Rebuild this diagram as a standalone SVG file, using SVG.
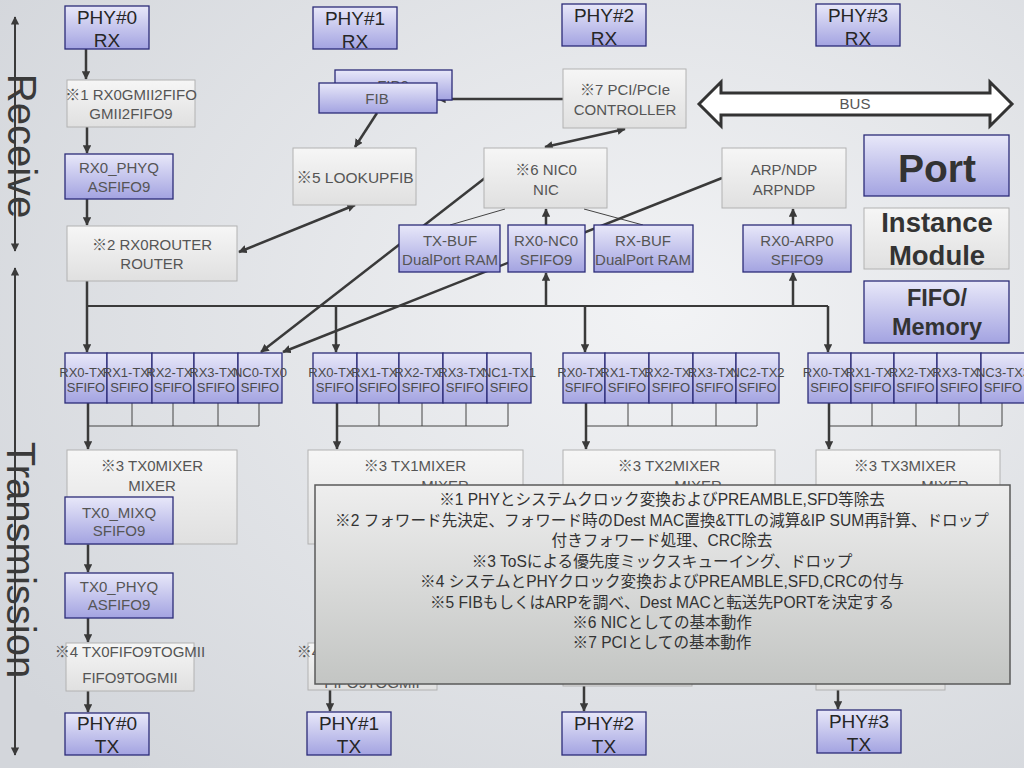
<svg xmlns="http://www.w3.org/2000/svg" width="1024" height="768" viewBox="0 0 1024 768">
<defs>
<radialGradient id="bg" cx="0.65" cy="0.4" r="0.8">
<stop offset="0" stop-color="#f2f3f5"/><stop offset="1" stop-color="#d3d6db"/>
</radialGradient>
<linearGradient id="gb" x1="0" y1="0" x2="0" y2="1"><stop offset="0" stop-color="#e8e8f9"/><stop offset="1" stop-color="#a3a3e1"/></linearGradient>
<linearGradient id="gg" x1="0" y1="0" x2="0" y2="1"><stop offset="0" stop-color="#f6f6f6"/><stop offset="1" stop-color="#e0e0e0"/></linearGradient>
<linearGradient id="gn" x1="0" y1="0" x2="0" y2="1"><stop offset="0" stop-color="#eeeeee"/><stop offset="1" stop-color="#c3c5c3"/></linearGradient>
<marker id="ah" viewBox="0 0 10 10" refX="9" refY="5" markerWidth="3.4" markerHeight="3.4" orient="auto-start-reverse"><path d="M0,0L10,5L0,10z" fill="#3a3a3a"/></marker>
<marker id="ah2" viewBox="0 0 10 10" refX="9" refY="5" markerWidth="4.2" markerHeight="4.2" orient="auto-start-reverse"><path d="M0,0L10,5L0,10z" fill="#3a3a3a"/></marker>
<style>
.bx{fill:url(#gb);stroke:#2c2c78;stroke-width:1.3}
.gy{fill:url(#gg);stroke:#b2b2b2;stroke-width:1}
.t{font-family:"Liberation Sans","Noto Sans CJK JP",sans-serif;font-size:15px;fill:#555;text-anchor:middle}
.ph{font-size:19px;fill:#262626}
.f{font-size:13px;fill:#4a4a4a}
.lg{font-weight:bold;fill:#333}
.big{font-family:"Liberation Sans",sans-serif;font-size:40px;fill:#3a3a3a;text-anchor:middle}
.c{stroke:#3a3a3a;stroke-width:2.5;fill:none;marker-end:url(#ah)}
.d{marker-start:url(#ah)}
.p{stroke:#3a3a3a;stroke-width:2.2;fill:none}
.th{stroke:#444;stroke-width:1;fill:none}
.ax{stroke:#3a3a3a;stroke-width:2;fill:none;marker-start:url(#ah2);marker-end:url(#ah2)}
.nt{font-family:"Liberation Sans","Noto Sans CJK JP",sans-serif;font-size:15.6px;fill:#333;text-anchor:middle}
</style>
</defs>
<rect width="1024" height="768" fill="url(#bg)"/>

<g id="axis-receive"><line class="ax" x1="15" y1="17" x2="15" y2="251"/><text class="big" transform="translate(8,146) rotate(90)">Receive</text></g>
<g id="axis-transmission"><line class="ax" x1="15" y1="268" x2="15" y2="755"/><text class="big" transform="translate(7,560) rotate(90)">Transmission</text></g>

<g id="connectors">
<line class="c" x1="86" y1="49" x2="86" y2="79"/>
<line class="c" x1="87" y1="127" x2="87" y2="153"/>
<line class="c" x1="87" y1="199" x2="87" y2="225"/>
<line class="c d" x1="239" y1="252" x2="355" y2="205"/>
<line class="c" x1="377" y1="113" x2="355" y2="147"/>
<line class="c" x1="563" y1="99" x2="438" y2="99"/>
<line class="c d" x1="545" y1="147" x2="625" y2="129"/>
<line class="c" x1="546" y1="225" x2="546" y2="209"/>
<line class="c" x1="793" y1="225" x2="793" y2="209"/>
<line class="th" x1="505" y1="209" x2="450" y2="225"/>
<line class="th" x1="584" y1="209" x2="643" y2="225"/>
<line class="c" x1="485" y1="178" x2="261" y2="352"/>
<line class="c" x1="722" y1="178" x2="283" y2="352"/>
<line class="c" x1="87" y1="281" x2="87" y2="352"/>
<line class="p" x1="87" y1="306" x2="828" y2="306"/>
<line class="c" x1="336" y1="306" x2="336" y2="352"/>
<line class="c" x1="585" y1="306" x2="585" y2="352"/>
<line class="c" x1="828" y1="306" x2="828" y2="352"/>
<line class="c" x1="546" y1="306" x2="546" y2="273"/>
<line class="c" x1="793" y1="306" x2="793" y2="273"/>
<path class="th" d="M132,403V426M173,403V426M218,403V426M259,403V426M88,426H259"/>
<path class="th" d="M379,403V426M422,403V426M466,403V426M508,403V426M337,426H508"/>
<path class="th" d="M628,403V426M672,403V426M716,403V426M757,403V426M586,426H757"/>
<path class="th" d="M872,403V426M916,403V426M959,403V426M1002,403V426M829,426H1002"/>
<line class="c" x1="88" y1="403" x2="88" y2="449"/>
<line class="c" x1="337" y1="403" x2="337" y2="449"/>
<line class="c" x1="586" y1="403" x2="586" y2="449"/>
<line class="c" x1="829" y1="403" x2="829" y2="449"/>
<line class="c" x1="88" y1="544" x2="88" y2="572"/>
<line class="c" x1="88" y1="618" x2="88" y2="642"/>
<line class="c" x1="88" y1="691" x2="88" y2="712"/>
<line class="c" x1="330" y1="690" x2="330" y2="711"/>
<line class="c" x1="584" y1="686" x2="584" y2="711"/>
<line class="c" x1="838" y1="690" x2="838" y2="709"/>
</g>

<g id="phy0-rx"><rect class="bx" x="65" y="6" width="84" height="43"/><text class="t ph" x="107" y="24">PHY#0</text><text class="t ph" x="107" y="47">RX</text></g>
<g id="phy1-rx"><rect class="bx" x="313" y="7" width="84" height="42"/><text class="t ph" x="355" y="25">PHY#1</text><text class="t ph" x="355" y="48">RX</text></g>
<g id="phy2-rx"><rect class="bx" x="562" y="4" width="84" height="42"/><text class="t ph" x="604" y="22">PHY#2</text><text class="t ph" x="604" y="45">RX</text></g>
<g id="phy3-rx"><rect class="bx" x="816" y="4" width="84" height="42"/><text class="t ph" x="858" y="22">PHY#3</text><text class="t ph" x="858" y="45">RX</text></g>

<g id="rx0gmii2fifo"><rect class="gy" x="67" y="80" width="128" height="47"/><text class="t" x="131" y="100">※1 RX0GMII2FIFO</text><text class="t" x="131" y="119">GMII2FIFO9</text></g>
<g id="rx0-phyq"><rect class="bx" x="65" y="154" width="108" height="45"/><text class="t" x="119" y="173">RX0_PHYQ</text><text class="t" x="119" y="192">ASFIFO9</text></g>
<g id="rx0router"><rect class="gy" x="67" y="226" width="170" height="55"/><text class="t" x="152" y="250">※2 RX0ROUTER</text><text class="t" x="152" y="269">ROUTER</text></g>

<g id="fib0"><rect class="bx" x="335" y="70" width="117" height="30"/><text class="t" x="393" y="91">FIB0</text></g>
<g id="fib"><rect class="bx" x="319" y="83" width="118" height="30"/><text class="t" x="377" y="104">FIB</text></g>
<g id="lookupfib"><rect class="gy" x="293" y="148" width="123" height="57"/><text class="t" x="355" y="183" style="font-size:15.5px">※5 LOOKUPFIB</text></g>
<g id="pci"><rect class="gy" x="563" y="69" width="123" height="59"/><text class="t" x="625" y="95">※7 PCI/PCIe</text><text class="t" x="625" y="115">CONTROLLER</text></g>
<g id="nic0"><rect class="gy" x="484" y="148" width="123" height="60"/><text class="t" x="546" y="175">※6 NIC0</text><text class="t" x="546" y="195">NIC</text></g>
<g id="tx-buf"><rect class="bx" x="399" y="225" width="101" height="47"/><text class="t" x="450" y="246">TX-BUF</text><text class="t" x="450" y="265">DualPort RAM</text></g>
<g id="rx0-nc0"><rect class="bx" x="508" y="225" width="77" height="47"/><text class="t" x="546" y="246">RX0-NC0</text><text class="t" x="546" y="265">SFIFO9</text></g>
<g id="rx-buf"><rect class="bx" x="594" y="225" width="99" height="47"/><text class="t" x="643" y="246">RX-BUF</text><text class="t" x="643" y="265">DualPort RAM</text></g>
<g id="arpndp"><rect class="gy" x="722" y="148" width="124" height="60"/><text class="t" x="784" y="175">ARP/NDP</text><text class="t" x="784" y="195">ARPNDP</text></g>
<g id="rx0-arp0"><rect class="bx" x="743" y="225" width="108" height="47"/><text class="t" x="797" y="246">RX0-ARP0</text><text class="t" x="797" y="265">SFIFO9</text></g>

<g id="bus"><polygon points="699,104 721,82 721,93 990,93 990,82 1012,104 990,126 990,115 721,115 721,126" fill="#fff" stroke="#333" stroke-width="3" stroke-linejoin="miter"/><text class="t" x="855" y="109" style="fill:#555">BUS</text></g>

<g id="legend-port"><rect class="bx" x="864" y="135" width="145" height="61"/><text class="t lg" x="937" y="182" style="font-size:39px">Port</text></g>
<g id="legend-instance"><rect class="gy" x="864" y="208" width="145" height="61"/><text class="t lg" x="937" y="232" style="font-size:27.5px">Instance</text><text class="t lg" x="937" y="265" style="font-size:27.5px">Module</text></g>
<g id="legend-fifo"><rect class="bx" x="864" y="281" width="145" height="62"/><text class="t lg" x="937" y="306" style="font-size:23.5px">FIFO/</text><text class="t lg" x="937" y="335" style="font-size:23.5px">Memory</text></g>

<g id="fifo-tx0">
<rect class="bx" x="65" y="353" width="42" height="50"/><text class="t f" x="86" y="377">RX0-TX0</text><text class="t f" x="86" y="392">SFIFO</text>
<rect class="bx" x="107" y="353" width="45" height="50"/><text class="t f" x="129.5" y="377">RX1-TX0</text><text class="t f" x="129.5" y="392">SFIFO</text>
<rect class="bx" x="152" y="353" width="42" height="50"/><text class="t f" x="173" y="377">RX2-TX0</text><text class="t f" x="173" y="392">SFIFO</text>
<rect class="bx" x="194" y="353" width="44" height="50"/><text class="t f" x="216" y="377">RX3-TX0</text><text class="t f" x="216" y="392">SFIFO</text>
<rect class="bx" x="238" y="353" width="44" height="50"/><text class="t f" x="260" y="377">NC0-TX0</text><text class="t f" x="260" y="392">SFIFO</text>
</g>
<g id="fifo-tx1">
<rect class="bx" x="313" y="353" width="44" height="50"/><text class="t f" x="335" y="377">RX0-TX1</text><text class="t f" x="335" y="392">SFIFO</text>
<rect class="bx" x="357" y="353" width="42" height="50"/><text class="t f" x="378" y="377">RX1-TX1</text><text class="t f" x="378" y="392">SFIFO</text>
<rect class="bx" x="399" y="353" width="44" height="50"/><text class="t f" x="421" y="377">RX2-TX1</text><text class="t f" x="421" y="392">SFIFO</text>
<rect class="bx" x="443" y="353" width="44" height="50"/><text class="t f" x="465" y="377">RX3-TX1</text><text class="t f" x="465" y="392">SFIFO</text>
<rect class="bx" x="487" y="353" width="44" height="50"/><text class="t f" x="509" y="377">NC1-TX1</text><text class="t f" x="509" y="392">SFIFO</text>
</g>
<g id="fifo-tx2">
<rect class="bx" x="563" y="353" width="42" height="50"/><text class="t f" x="584" y="377">RX0-TX2</text><text class="t f" x="584" y="392">SFIFO</text>
<rect class="bx" x="605" y="353" width="44" height="50"/><text class="t f" x="627" y="377">RX1-TX2</text><text class="t f" x="627" y="392">SFIFO</text>
<rect class="bx" x="649" y="353" width="44" height="50"/><text class="t f" x="671" y="377">RX2-TX2</text><text class="t f" x="671" y="392">SFIFO</text>
<rect class="bx" x="693" y="353" width="43" height="50"/><text class="t f" x="714.5" y="377">RX3-TX2</text><text class="t f" x="714.5" y="392">SFIFO</text>
<rect class="bx" x="736" y="353" width="43" height="50"/><text class="t f" x="757.5" y="377">NC2-TX2</text><text class="t f" x="757.5" y="392">SFIFO</text>
</g>
<g id="fifo-tx3">
<rect class="bx" x="808" y="353" width="43" height="50"/><text class="t f" x="829.5" y="377">RX0-TX3</text><text class="t f" x="829.5" y="392">SFIFO</text>
<rect class="bx" x="851" y="353" width="43" height="50"/><text class="t f" x="872.5" y="377">RX1-TX3</text><text class="t f" x="872.5" y="392">SFIFO</text>
<rect class="bx" x="894" y="353" width="43" height="50"/><text class="t f" x="915.5" y="377">RX2-TX3</text><text class="t f" x="915.5" y="392">SFIFO</text>
<rect class="bx" x="937" y="353" width="44" height="50"/><text class="t f" x="959" y="377">RX3-TX3</text><text class="t f" x="959" y="392">SFIFO</text>
<rect class="bx" x="981" y="353" width="46" height="50"/><text class="t f" x="1003" y="377">NC3-TX3</text><text class="t f" x="1003" y="392">SFIFO</text>
</g>

<g id="tx0mixer"><rect class="gy" x="67" y="450" width="170" height="94"/><text class="t" x="152" y="471">※3 TX0MIXER</text><text class="t" x="152" y="491">MIXER</text></g>
<g id="tx1mixer"><rect class="gy" x="308" y="450" width="215" height="94"/><text class="t" x="415" y="471">※3 TX1MIXER</text><text class="t" x="445" y="491">MIXER</text></g>
<g id="tx2mixer"><rect class="gy" x="563" y="450" width="212" height="94"/><text class="t" x="669" y="471">※3 TX2MIXER</text><text class="t" x="698" y="491">MIXER</text></g>
<g id="tx3mixer"><rect class="gy" x="816" y="450" width="184" height="94"/><text class="t" x="905" y="471">※3 TX3MIXER</text><text class="t" x="945" y="491">MIXER</text></g>

<g id="tx0-mixq"><rect class="bx" x="65" y="497" width="108" height="47"/><text class="t" x="119" y="518">TX0_MIXQ</text><text class="t" x="119" y="536">SFIFO9</text></g>
<g id="tx0-phyq"><rect class="bx" x="65" y="573" width="108" height="45"/><text class="t" x="119" y="592">TX0_PHYQ</text><text class="t" x="119" y="610">ASFIFO9</text></g>
<g id="tx0fifo9togmii"><rect class="gy" x="66" y="643" width="128" height="48"/><text class="t" x="130" y="657">※4 TX0FIFO9TOGMII</text><text class="t" x="130" y="683">FIFO9TOGMII</text></g>
<g id="tx1fifo9togmii"><rect class="gy" x="308" y="643" width="129" height="47"/><text class="t" x="372" y="657">※4 TX1FIFO9TOGMII</text><text class="t" x="372" y="688">FIFO9TOGMII</text></g>
<g id="tx2fifo9togmii"><rect class="gy" x="563" y="638" width="129" height="48"/><text class="t" x="627" y="652">※4 TX2FIFO9TOGMII</text><text class="t" x="627" y="678">FIFO9TOGMII</text></g>
<g id="tx3fifo9togmii"><rect class="gy" x="816" y="642" width="129" height="48"/><text class="t" x="880" y="656">※4 TX3FIFO9TOGMII</text><text class="t" x="880" y="682">FIFO9TOGMII</text></g>

<g id="phy0-tx"><rect class="bx" x="65" y="713" width="84" height="42"/><text class="t ph" x="107" y="730">PHY#0</text><text class="t ph" x="107" y="753">TX</text></g>
<g id="phy1-tx"><rect class="bx" x="307" y="712" width="84" height="43"/><text class="t ph" x="349" y="730">PHY#1</text><text class="t ph" x="349" y="753">TX</text></g>
<g id="phy2-tx"><rect class="bx" x="562" y="712" width="84" height="43"/><text class="t ph" x="604" y="730">PHY#2</text><text class="t ph" x="604" y="753">TX</text></g>
<g id="phy3-tx"><rect class="bx" x="817" y="710" width="84" height="43"/><text class="t ph" x="859" y="728">PHY#3</text><text class="t ph" x="859" y="751">TX</text></g>

<g id="notes"><rect x="315" y="485" width="695" height="199" fill="url(#gn)" stroke="#5a5a5a" stroke-width="1.5"/>
<text class="nt" x="662" y="505">※1 PHYとシステムクロック変換およびPREAMBLE,SFD等除去</text>
<text class="nt" x="662" y="526">※2 フォワード先決定、フォワード時のDest MAC置換&amp;TTLの減算&amp;IP SUM再計算、ドロップ</text>
<text class="nt" x="662" y="546">付きフォワード処理、CRC除去</text>
<text class="nt" x="662" y="567">※3 ToSによる優先度ミックスキューイング、ドロップ</text>
<text class="nt" x="662" y="587">※4 システムとPHYクロック変換およびPREAMBLE,SFD,CRCの付与</text>
<text class="nt" x="662" y="608">※5 FIBもしくはARPを調べ、Dest MACと転送先PORTを決定する</text>
<text class="nt" x="662" y="628">※6 NICとしての基本動作</text>
<text class="nt" x="662" y="648">※7 PCIとしての基本動作</text>
</g>
</svg>
